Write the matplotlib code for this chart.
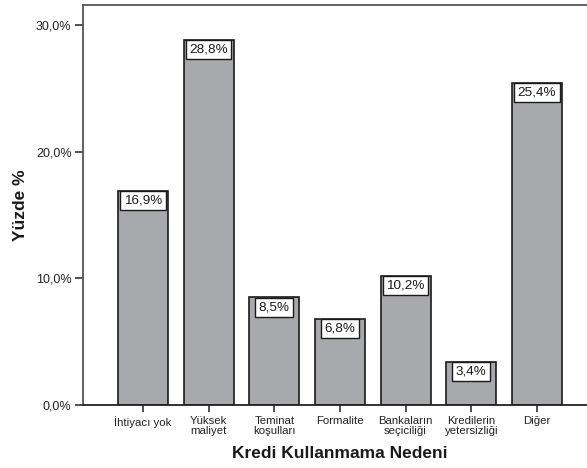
import matplotlib.pyplot as plt

# Kredi kullanmama nedenleri ve yüzdeleri
nedenler = ['İhtiyacı yok', 'Yüksek\nmaliyet', 'Teminat\nkoşulları', 'Formalite',
            'Bankaların\nseçiciliği', 'Kredilerin\nyetersizliği', 'Diğer']
yuzdeler = [16.9, 28.8, 8.5, 6.8, 10.2, 3.4, 25.4]
y_ticks = [0, 10, 20, 30]

plt.rcParams['font.family'] = ['Liberation Sans', 'DejaVu Sans']

fig = plt.figure(figsize=(5.87, 4.68), dpi=100)
# sağ kenar figürün biraz dışına taşıyor
ax = fig.add_axes([0.1419, 0.1346, 0.8746, 0.8554])

x = range(len(nedenler))
ax.bar(x, yuzdeler, width=0.76, color='#a8a9ac', edgecolor='#1a1a1a', linewidth=1.2)

# Çubukların üstündeki değer kutucukları
for xi, v in zip(x, yuzdeler):
    ax.annotate(f'{v:.1f}%'.replace('.', ','), xy=(xi, v), xytext=(0, -2.7),
                textcoords='offset points', ha='center', va='top', fontsize=9.7,
                color='#1a1a1a',
                bbox=dict(boxstyle='square,pad=0.26', fc='white', ec='#1a1a1a', lw=1.0))

ax.set_xlim(-0.909, 6.909)
ax.set_ylim(0, 31.6)
ax.set_yticks(y_ticks)
ax.set_yticklabels([f'{t:.1f}%'.replace('.', ',') for t in y_ticks])
ax.set_xticks(list(x))
ax.set_xticklabels(nedenler, fontsize=8.2, linespacing=0.95)

ax.tick_params(axis='y', length=6, width=1.2, pad=2.5, labelsize=9, colors='#333333',
               labelcolor='#222222')
ax.tick_params(axis='x', length=5, width=1.2, pad=3, colors='#333333',
               labelcolor='#222222')

for s in ['left', 'bottom', 'top']:
    ax.spines[s].set_color('#555555')
    ax.spines[s].set_linewidth(1.3)
ax.spines['right'].set_visible(False)
ax.spines['bottom'].set_color('#222222')

ax.set_xlabel('Kredi Kullanmama Nedeni', fontsize=12.5, fontweight='bold', color='#1a1a1a')
ax.set_ylabel('Yüzde %', fontsize=12.5, fontweight='bold', color='#1a1a1a')
ax.xaxis.set_label_coords(0.5, -0.1025)
ax.yaxis.set_label_coords(-0.107, 0.5)

plt.savefig('out.png', dpi=100)
